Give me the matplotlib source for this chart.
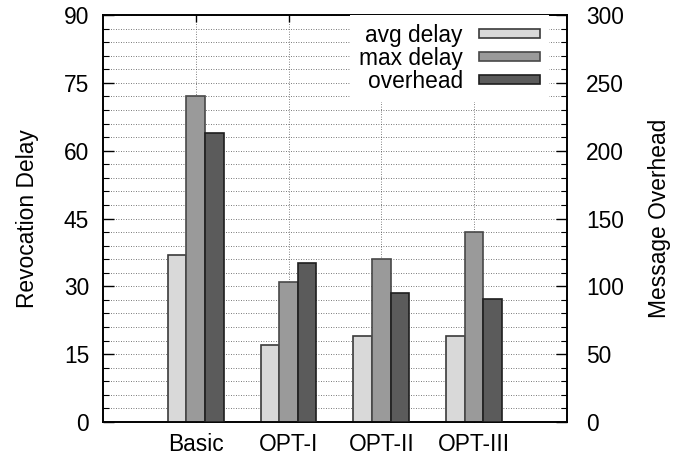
#!/usr/bin/env python
"""
Revocation delay and message overhead for the basic scheme and its
three optimisations. Delay on the left axis, overhead on the right axis.

Output:
    out.png
"""

import matplotlib

matplotlib.use("Agg")
import matplotlib.pyplot as plt
from matplotlib.patches import Patch
from matplotlib.ticker import MultipleLocator

schemes = ["Basic", "OPT-I", "OPT-II", "OPT-III"]
avg_delay = [37, 17, 19, 19]
max_delay = [72, 31, 36, 42]
overhead = [213, 117, 95, 91]

series_labels = ["avg delay", "max delay", "overhead"]

FILL = ["#d9d9d9", "#9a9a9a", "#5b5b5b"]
EDGE = ["#3a3a3a", "#484848", "#1e1e1e"]
FONT = 16.4


def plot_revocation(out_path):
    plt.rcParams["font.family"] = ["Liberation Sans", "DejaVu Sans"]
    plt.rcParams["font.size"] = FONT

    fig = plt.figure(figsize=(6.83, 4.62), dpi=100)
    ax = fig.add_subplot(111)
    fig.subplots_adjust(left=0.1508, right=0.830, top=0.9675, bottom=0.0866)
    ax2 = ax.twinx()

    x = list(range(1, len(schemes) + 1))
    w = 0.2

    ax.bar([i - w for i in x], avg_delay, width=w, color=FILL[0],
           edgecolor=EDGE[0], linewidth=1.2, zorder=3)
    ax.bar(x, max_delay, width=w, color=FILL[1],
           edgecolor=EDGE[1], linewidth=1.2, zorder=3)
    ax2.bar([i + w for i in x], overhead, width=w, color=FILL[2],
            edgecolor=EDGE[2], linewidth=1.2, zorder=3)

    ax.set_xlim(0, len(schemes) + 1)
    ax.set_ylim(0, 90)
    ax2.set_ylim(0, 300)

    ax.set_xticks(x)
    ax.set_xticklabels(schemes)
    ax.yaxis.set_major_locator(MultipleLocator(15))
    ax.yaxis.set_minor_locator(MultipleLocator(3))
    ax2.yaxis.set_major_locator(MultipleLocator(50))
    ax2.yaxis.set_minor_locator(MultipleLocator(10))

    # gnuplot-like inward ticks, mirrored on top
    ax.tick_params(axis="x", which="both", direction="in", top=True,
                   length=5, width=1.0, pad=8)
    ax.tick_params(axis="y", which="major", direction="in", length=8,
                   width=1.0, pad=10, right=False)
    ax.tick_params(axis="y", which="minor", direction="in", length=4,
                   width=0.8, right=False)
    ax2.tick_params(axis="y", which="major", direction="in", length=8,
                    width=1.0, pad=14)
    ax2.tick_params(axis="y", which="minor", direction="in", length=4,
                    width=0.8)

    # dotted grid: every minor step on y, each scheme on x
    for which in ("major", "minor"):
        ax.grid(True, axis="y", which=which, color="0.3",
                linestyle=(0, (1, 2)), linewidth=0.6, zorder=0)
    ax.grid(True, axis="x", which="major", color="0.35",
            linestyle=(0, (1, 2)), linewidth=0.6, zorder=0)
    ax.set_axisbelow(True)

    for a in (ax, ax2):
        for sp in a.spines.values():
            sp.set_linewidth(1.2)
            sp.set_color("black")

    ax.set_ylabel("Revocation Delay")
    ax2.set_ylabel("Message Overhead")
    ax.yaxis.set_label_coords(-0.138, 0.5)
    ax2.yaxis.set_label_coords(1.175, 0.5)

    handles = [Patch(facecolor=FILL[k], edgecolor=EDGE[k], linewidth=1.2)
               for k in range(3)]
    leg = ax2.legend(handles, series_labels, loc="upper right",
                     bbox_to_anchor=(0.962, 1.0), markerfirst=False,
                     handlelength=2.7, handleheight=0.22, handletextpad=0.7,
                     labelspacing=0.0, borderpad=0.4, borderaxespad=0.0,
                     fancybox=False, framealpha=1.0, fontsize=FONT)
    leg.get_frame().set_edgecolor("white")
    leg.get_frame().set_facecolor("white")
    leg.get_frame().set_linewidth(0)
    # right-align the labels so the samples line up
    for col in leg._legend_handle_box.get_children():
        col.align = "right"

    fig.savefig(out_path, dpi=100)
    plt.close(fig)


def main():
    plot_revocation("out.png")


if __name__ == "__main__":
    main()
